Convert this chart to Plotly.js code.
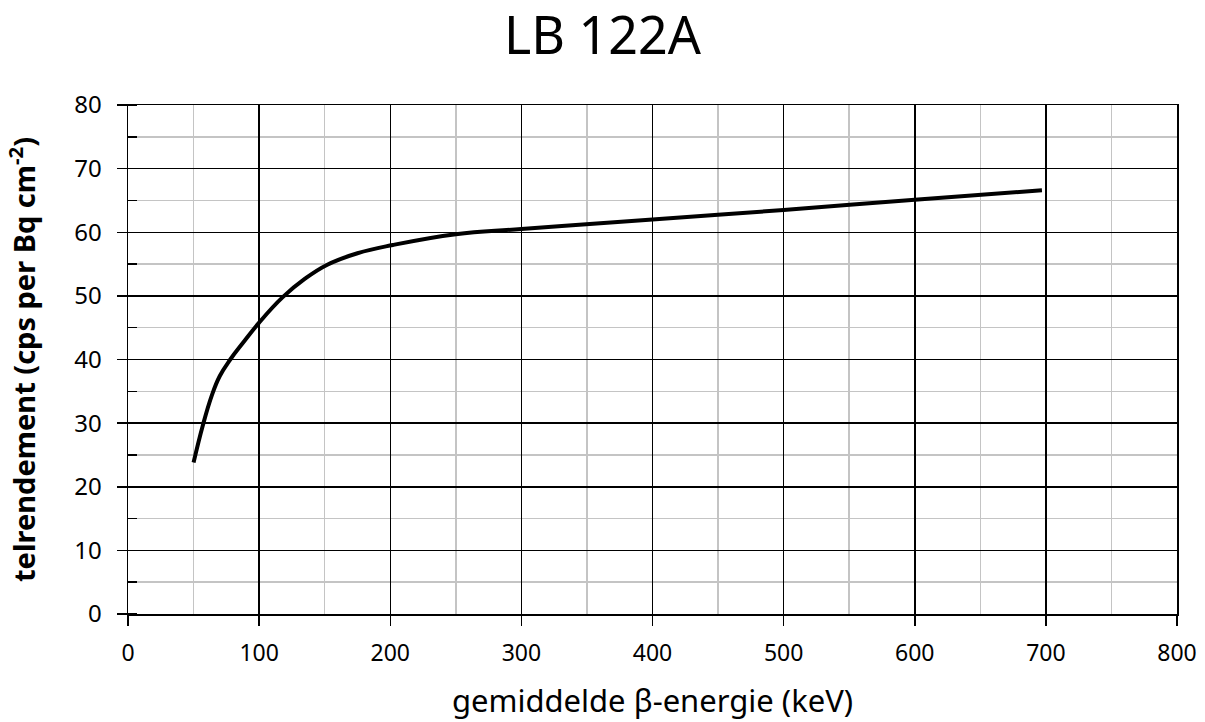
<!DOCTYPE html>
<html>
<head>
<meta charset="utf-8">
<script src="https://cdn.plot.ly/plotly-3.0.1.min.js"></script>
<style>html,body{margin:0;padding:0;background:#fff;}#chart{width:1205px;height:722px;}</style>
</head>
<body>
<div id="chart"></div>
<script>
// gemiddelde beta-energie (keV)
const energy = [50, 57, 64, 70, 78, 88, 100, 118, 135, 152, 175, 202, 250, 300, 400, 500, 600, 697];
// telrendement (cps per Bq cm^-2)
const efficiency = [23.8, 29.6, 34.4, 37.4, 40.0, 42.7, 45.8, 49.8, 52.7, 54.9, 56.7, 58.0, 59.7, 60.5, 62.0, 63.5, 65.1, 66.6];
const xTicks = [0, 100, 200, 300, 400, 500, 600, 700, 800];
const yTicks = [0, 10, 20, 30, 40, 50, 60, 70, 80];

const fontFam = '"Noto Sans", "Open Sans", sans-serif';

Plotly.newPlot('chart', [{
  x: energy,
  y: efficiency,
  type: 'scatter',
  mode: 'lines',
  line: {color: '#000', width: 4, shape: 'spline', smoothing: 1.2},
  hoverinfo: 'skip'
}], {
  width: 1205, height: 722,
  margin: {l: 128, r: 28, t: 105, b: 108},
  paper_bgcolor: '#fff', plot_bgcolor: '#fff',
  showlegend: false,
  title: {text: 'LB 122A', font: {family: fontFam, size: 52, color: '#000'}, x: 0.5, xanchor: 'center', y: 0.951, yanchor: 'middle'},
  xaxis: {
    range: [0, 800], tickvals: xTicks, ticktext: xTicks.map(String),
    showgrid: true, gridcolor: '#000', gridwidth: 1.5,
    showline: true, linecolor: '#000', linewidth: 1.5, mirror: true,
    ticks: 'outside', ticklen: 10, tickcolor: '#000', tickwidth: 1.5,
    tickfont: {family: fontFam, size: 23, color: '#000'},
    ticklabelstandoff: 8,
    zeroline: false,
    minor: {dtick: 50, showgrid: true, gridcolor: '#c4c4c4', gridwidth: 1.5},
    title: {text: 'gemiddelde β-energie (keV)', font: {family: fontFam, size: 31, color: '#000'}, standoff: 23}
  },
  yaxis: {
    range: [0, 80], tickvals: yTicks, ticktext: yTicks.map(String),
    showgrid: true, gridcolor: '#000', gridwidth: 1.5,
    showline: true, linecolor: '#000', linewidth: 1.5, mirror: true,
    ticks: 'outside', ticklen: 10, tickcolor: '#000', tickwidth: 1.5,
    tickfont: {family: fontFam, size: 24, color: '#000'},
    ticklabelstandoff: 10,
    zeroline: false,
    minor: {dtick: 5, showgrid: true, gridcolor: '#c4c4c4', gridwidth: 1.5, ticks: 'inside', ticklen: 9, tickcolor: '#000', tickwidth: 1.5},
    title: {text: '<b>telrendement (cps per Bq cm<sup>-2</sup>)</b>', font: {family: fontFam, size: 29, color: '#000'}, standoff: 30}
  }
}, {staticPlot: true});
</script>
</body>
</html>
